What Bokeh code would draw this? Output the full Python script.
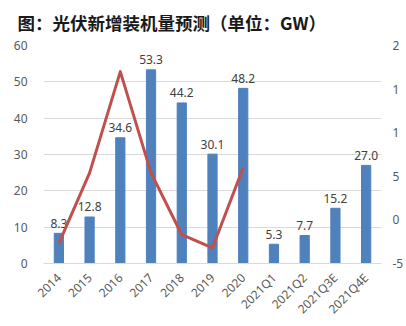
import math
from bokeh.plotting import figure
from bokeh.models import (ColumnDataSource, Range1d, FactorRange, FixedTicker,
                          LinearAxis)
from bokeh.core.properties import value
from bokeh.embed import file_html
from bokeh.resources import INLINE

# ---- data ----
categories = ["2014", "2015", "2016", "2017", "2018", "2019", "2020",
              "2021Q1", "2021Q2", "2021Q3E", "2021Q4E"]
installs_gw = [8.3, 12.8, 34.6, 53.3, 44.2, 30.1, 48.2, 5.3, 7.7, 15.2, 27.0]
growth_years = ["2014", "2015", "2016", "2017", "2018", "2019", "2020"]
growth_pct = [-27, 54, 170, 54, -17, -32, 60]
left_ticks = [0, 10, 20, 30, 40, 50, 60]
right_ticks = [200, 150, 100, 50, 0, -50]
# right-hand scale labels as visible in the source (cut off at its edge)
right_tick_labels = ["2", "1", "1", "5", "0", "-5"]
title_text = "图：光伏新增装机量预测（单位：GW）"

FONT = "Noto Sans"
CJK = "Noto Sans CJK SC"

p = figure(width=406, height=326, x_range=FactorRange(*categories),
           y_range=Range1d(0, 60), output_backend="svg", toolbar_location=None,
           min_border_left=43, min_border_right=20, min_border_top=0,
           min_border_bottom=61, title=title_text)
p.extra_y_ranges = {"growth": Range1d(-50, 200)}
p.outline_line_color = None
p.background_fill_color = "white"
p.border_fill_color = "white"

p.title.text_font = CJK
p.title.text_font_style = "bold"
p.title.text_font_size = "17.5px"
p.title.text_color = "#1a1a1a"
p.title.align = "left"
p.title.offset = -26
p.title.vertical_align = "top"
p.title.standoff = 18

src = ColumnDataSource(dict(cat=categories, val=installs_gw,
                            lab=[f"{v:.1f}" for v in installs_gw]))
p.vbar(x="cat", top="val", width=0.3, source=src, fill_color="#4f81bd",
       line_color="#4f81bd")
p.text(x="cat", y="val", text="lab", source=src, text_align="center",
       text_baseline="alphabetic", y_offset=-10, text_font=value(FONT),
       text_font_size="12px", text_color="#404040")

p.line(x=growth_years, y=growth_pct, y_range_name="growth",
       line_color="#c0504d", line_width=3, line_join="round")

# axes
p.xgrid.grid_line_color = None
p.ygrid.grid_line_color = "#d9d9d9"
p.yaxis.ticker = FixedTicker(ticks=left_ticks)
p.yaxis.axis_line_color = None
p.yaxis.major_tick_line_color = None
p.yaxis.major_tick_out = 0
p.yaxis.minor_tick_line_color = None
p.yaxis.major_label_standoff = 16
p.yaxis.major_label_text_font = FONT
p.yaxis.major_label_text_font_size = "12px"
p.yaxis.major_label_text_color = "#595959"

p.xaxis.axis_line_color = "#d9d9d9"
p.xaxis.major_tick_line_color = None
p.xaxis.major_tick_out = 0
p.xaxis.major_label_orientation = math.pi / 4
p.xaxis.major_label_standoff = 12
p.xaxis.major_label_text_font = FONT
p.xaxis.major_label_text_font_size = "12px"
p.xaxis.major_label_text_color = "#595959"

raxis = LinearAxis(y_range_name="growth", ticker=FixedTicker(ticks=right_ticks),
                   major_label_overrides=dict(zip(right_ticks, right_tick_labels)))
raxis.axis_line_color = None
raxis.major_tick_line_color = None
raxis.major_tick_out = 0
raxis.minor_tick_line_color = None
raxis.major_label_standoff = 11
raxis.major_label_text_font = FONT
raxis.major_label_text_font_size = "12px"
raxis.major_label_text_color = "#595959"
p.add_layout(raxis, "right")

open("out.html", "w").write(file_html(p, INLINE))
